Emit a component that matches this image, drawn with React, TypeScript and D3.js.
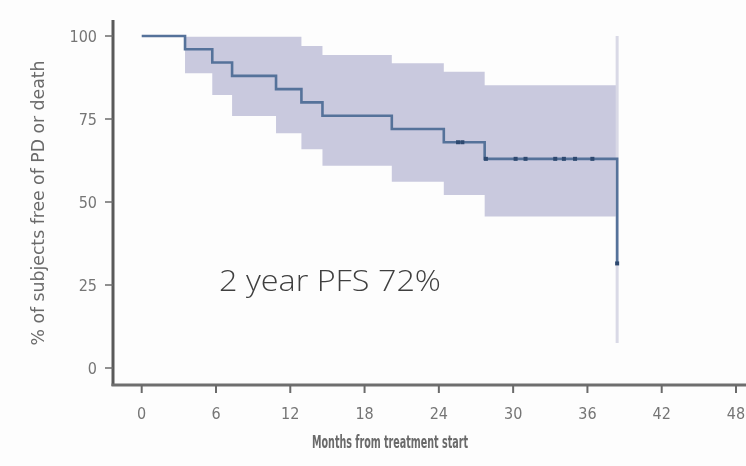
import React from "react";
import * as d3 from "d3";

// Kaplan–Meier progression-free survival estimate (percent), step changes by month
const stepMonths = [0, 3.5, 5.7, 7.3, 10.85, 12.9, 14.6, 20.2, 24.4, 27.7, 38.4];
const survival = [100, 96, 92, 88, 84, 80, 76, 72, 68, 63, 31.5];

// 95% confidence band, one value per interval between steps (3.5 → 38.4)
const bandStarts = [3.5, 5.7, 7.3, 10.85, 12.9, 14.6, 20.2, 24.4, 27.7];
const bandEnd = 38.4;
const bandUpper = [99.8, 99.8, 99.8, 99.8, 97, 94.3, 91.8, 89.2, 85.2];
const bandLower = [88.8, 82.2, 75.9, 70.7, 65.9, 60.9, 56.1, 52.1, 45.6];

// Final interval bounds drawn as a thin bar at the last event
const lastBandLower = 7.5;
const lastBandUpper = 100;

// Censored observations (month, survival level)
const censorMonths = [25.55, 25.9, 27.8, 30.2, 31.0, 33.4, 34.1, 35.0, 36.4, 38.4];
const censorLevels = [68, 68, 63, 63, 63, 63, 63, 63, 63, 31.5];

const xTicks = [0, 6, 12, 18, 24, 30, 36, 42, 48];
const yTicks = [0, 25, 50, 75, 100];

const W = 746;
const H = 466;

export default function App() {
  const x = d3.scaleLinear().domain([0, 48]).range([141.7, 736]);
  const y = d3.scaleLinear().domain([0, 100]).range([368, 36]);

  const axisX = 113;
  const axisY = 385;

  // Step line through the survival estimates
  const kmPts: [number, number][] = stepMonths.map((m, i) => [m, survival[i]]);
  const kmLine = d3
    .line<[number, number]>()
    .x((d) => x(d[0]))
    .y((d) => y(d[1]))
    .curve(d3.curveStepAfter)(kmPts);

  // Confidence band as a stepped area
  const bandPts = bandStarts.map((m, i) => ({ m, lo: bandLower[i], hi: bandUpper[i] }));
  bandPts.push({ m: bandEnd, lo: bandLower[bandLower.length - 1], hi: bandUpper[bandUpper.length - 1] });
  const bandArea = d3
    .area<{ m: number; lo: number; hi: number }>()
    .x((d) => x(d.m))
    .y0((d) => y(d.lo))
    .y1((d) => y(d.hi))
    .curve(d3.curveStepAfter)(bandPts);

  const tickFont = "'Liberation Sans Narrow', 'DejaVu Sans', sans-serif";
  const grey = "#6b6b6b";

  return (
    <svg
      width={W}
      height={H}
      viewBox={`0 0 ${W} ${H}`}
      style={{ position: "absolute", left: 0, top: 0, background: "#ffffff" }}
    >
      <defs>
        <filter id="soft" x="-5%" y="-5%" width="110%" height="110%">
          <feGaussianBlur stdDeviation="0.45" />
        </filter>
      </defs>
      <rect x={0} y={0} width={W} height={H} fill="#fdfdfd" />

      <g filter="url(#soft)">
        {/* confidence band */}
        <path d={bandArea ?? ""} fill="#c9c9de" />
        <line
          x1={x(bandEnd)}
          x2={x(bandEnd)}
          y1={y(lastBandUpper)}
          y2={y(lastBandLower)}
          stroke="#d9d9e6"
          strokeWidth={3}
        />

        {/* survival curve */}
        <path d={kmLine ?? ""} fill="none" stroke="#55729a" strokeWidth={2.6} />

        {/* censor marks */}
        {censorMonths.map((m, i) => (
          <rect
            key={i}
            x={x(m) - 2}
            y={y(censorLevels[i]) - 2}
            width={4}
            height={4}
            fill="#2e4a70"
          />
        ))}

        {/* axes */}
        <line x1={axisX} x2={axisX} y1={20} y2={axisY + 1} stroke="#5a5a5a" strokeWidth={3} />
        <line x1={axisX - 1.5} x2={W} y1={axisY} y2={axisY} stroke="#6e6e6e" strokeWidth={3} />

        {yTicks.map((t) => (
          <g key={t}>
            <line x1={105} x2={axisX} y1={y(t)} y2={y(t)} stroke={grey} strokeWidth={1.5} />
            <text
              x={97}
              y={y(t)}
              dy="0.36em"
              textAnchor="end"
              fontFamily={tickFont}
              fontStretch="condensed"
              fontSize={16}
              fill="#757575"
            >
              {t}
            </text>
          </g>
        ))}

        {xTicks.map((t) => (
          <g key={t}>
            <line x1={x(t)} x2={x(t)} y1={axisY} y2={axisY + 8} stroke={grey} strokeWidth={2} />
            <text
              x={x(t)}
              y={413}
              dy="0.36em"
              textAnchor="middle"
              fontFamily={tickFont}
              fontStretch="condensed"
              fontSize={16}
              fill="#757575"
            >
              {t}
            </text>
          </g>
        ))}

        <text
          x={390}
          y={442}
          dy="0.36em"
          textAnchor="middle"
          fontFamily={tickFont}
          fontStretch="condensed"
          fontWeight={600}
          fontSize={18}
          textLength={156}
          lengthAdjust="spacingAndGlyphs"
          fill="#6a6a6a"
        >
          Months from treatment start
        </text>

        <text
          transform="translate(38,203) rotate(-90)"
          dy="0.36em"
          textAnchor="middle"
          fontFamily={tickFont}
          fontStretch="condensed"
          fontSize={17}
          textLength={285}
          lengthAdjust="spacingAndGlyphs"
          fill="#6a6a6a"
        >
          % of subjects free of PD or death
        </text>
      </g>

      <text
        x={219}
        y={291}
        fontFamily="'Open Sans', 'DejaVu Sans', sans-serif"
        fontWeight={300}
        fontSize={29}
        textLength={222}
        lengthAdjust="spacingAndGlyphs"
        fill="#3f3f3f"
      >
        2 year PFS 72%
      </text>
    </svg>
  );
}
